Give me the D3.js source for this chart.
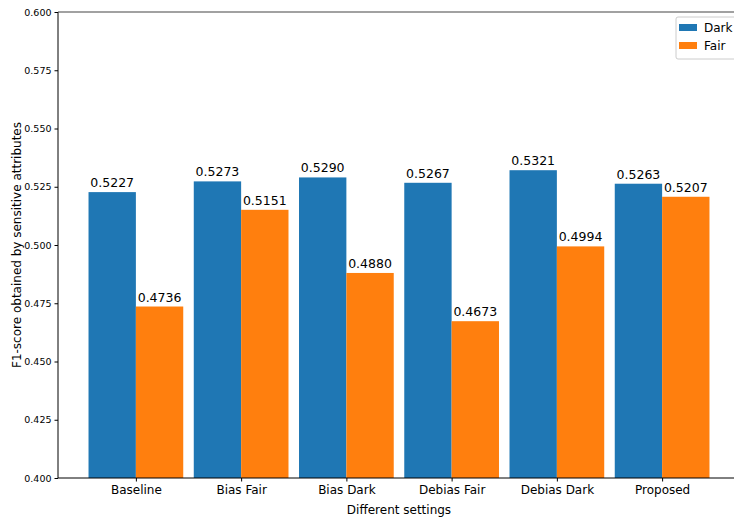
<!DOCTYPE html>
<html><head><meta charset="utf-8">
<script src="https://cdn.jsdelivr.net/npm/d3@7"></script>
<style>body{margin:0;background:#fff}svg{display:block}text{font-family:"DejaVu Sans",sans-serif}</style>
</head><body><svg id="c" width="734" height="521"></svg>
<script>
const categories = ["Baseline","Bias Fair","Bias Dark","Debias Fair","Debias Dark","Proposed"];
const darkValues = [0.5227,0.5273,0.5290,0.5267,0.5321,0.5263];
const fairValues = [0.4736,0.5151,0.4880,0.4673,0.4994,0.5207];
const seriesNames = ["Dark","Fair"];
const yTicks = [0.400,0.425,0.450,0.475,0.500,0.525,0.550,0.575,0.600];

const colors = ["#1f77b4","#ff7f0e"];
const svg = d3.select("#c");
const L=58, T=12, B=478, R=740;
const x = d3.scaleLinear().domain([-0.74,5.74]).range([L,R]);
const y = d3.scaleLinear().domain([0.4,0.6]).range([B,T]);
const bw = 0.45;
const series=[darkValues,fairValues];

const g = svg.append("g");
series.forEach((vals,si)=>{
  vals.forEach((v,i)=>{
    const x0 = si===0 ? x(i-bw) : x(i);
    const x1 = si===0 ? x(i) : x(i+bw);
    g.append("rect").attr("x",x0).attr("y",y(v)).attr("width",x1-x0).attr("height",y(0.4)-y(v)).attr("fill",colors[si]);
    g.append("text").attr("x",(x0+x1)/2).attr("y",y(v)-5).attr("text-anchor","middle")
      .attr("font-size",12.5).attr("fill","#000").text(v.toFixed(4));
  });
});

// spines
svg.append("line").attr("x1",L).attr("x2",L).attr("y1",T).attr("y2",B).attr("stroke","#000").attr("stroke-width",1);
svg.append("line").attr("x1",L).attr("x2",R).attr("y1",B).attr("y2",B).attr("stroke","#000").attr("stroke-width",1);
svg.append("line").attr("x1",L).attr("x2",R).attr("y1",T).attr("y2",T).attr("stroke","#444").attr("stroke-width",1.2);

// y axis
const ya = svg.append("g").attr("transform",`translate(${L},0)`)
  .call(d3.axisLeft(y).tickValues(yTicks).tickFormat(d3.format(".3f")).tickSizeOuter(0).tickSize(3.5).tickPadding(3));
ya.select(".domain").remove();
ya.selectAll("text").attr("font-size",9.5).attr("font-family","DejaVu Sans").attr("fill","#000");
ya.selectAll("line").attr("stroke","#000");

// x axis
const xa = svg.append("g").attr("transform",`translate(0,${B})`)
  .call(d3.axisBottom(x).tickValues(d3.range(categories.length)).tickFormat(i=>categories[i]).tickSizeOuter(0).tickSize(3.5).tickPadding(4));
xa.select(".domain").remove();
xa.selectAll("text").attr("font-size",12).attr("font-family","DejaVu Sans").attr("fill","#000");
xa.selectAll("line").attr("stroke","#000");

svg.append("text").attr("x",(L+R)/2).attr("y",514).attr("text-anchor","middle").attr("font-size",12).text("Different settings");
svg.append("text").attr("transform",`translate(21,${(T+B)/2}) rotate(-90)`).attr("text-anchor","middle").attr("font-size",12).text("F1-score obtained by sensitive attributes");

// legend
const lg = svg.append("g").attr("transform","translate(676,17)");
lg.append("rect").attr("x",0).attr("y",0).attr("width",70).attr("height",42).attr("rx",2).attr("fill","#fff").attr("stroke","#ccc").attr("stroke-width",1);
seriesNames.forEach((n,i)=>{
  lg.append("rect").attr("x",3).attr("y",7+i*18).attr("width",18).attr("height",7).attr("fill",colors[i]);
  lg.append("text").attr("x",28).attr("y",15+i*18).attr("font-size",12).text(n);
});
</script></body></html>
